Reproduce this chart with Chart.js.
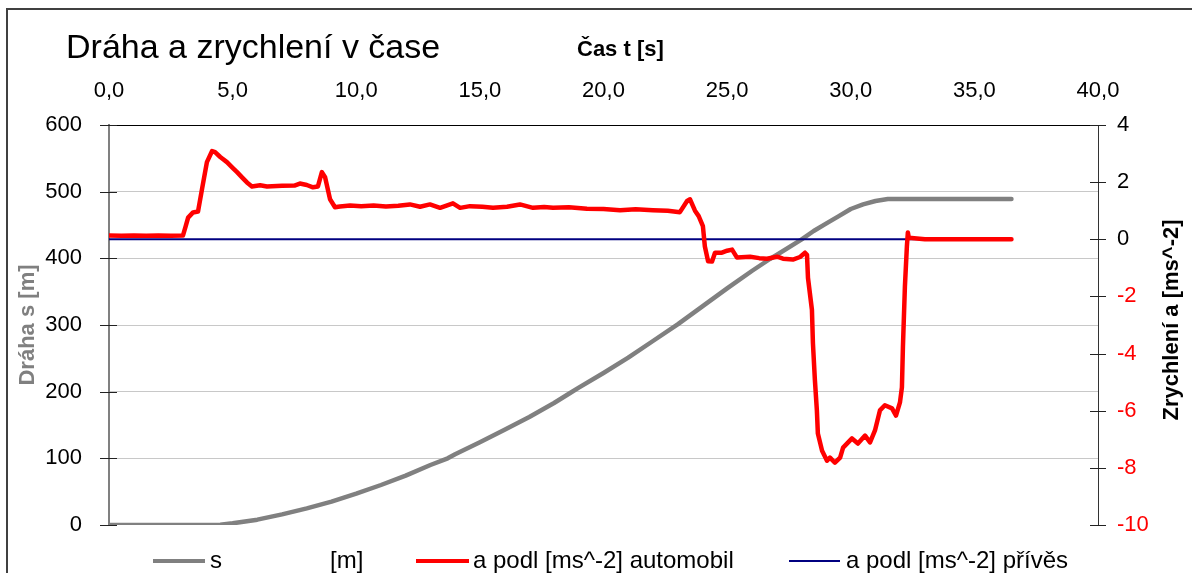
<!DOCTYPE html>
<html>
<head>
<meta charset="utf-8">
<script src="https://cdn.jsdelivr.net/npm/chart.js@4.4.1/dist/chart.umd.min.js"></script>
<style>
  html, body { margin: 0; padding: 0; background: #ffffff; }
  #wrap { width: 1192px; height: 573px; position: relative; overflow: hidden; }
  canvas { display: block; }
</style>
</head>
<body>
<div id="wrap"><canvas id="c" width="1192" height="573"></canvas></div>
<script>
// Time axis ticks [s]
const timeTicks = [0, 5, 10, 15, 20, 25, 30, 35, 40];

// Distance s [m] over time
const distTime = [0, 4.0, 4.5, 5.0, 6.0, 7.0, 8.0, 9.0, 10.0, 11.0, 12.0, 13.0, 13.7, 14.0, 15.0, 16.0, 17.0,
  18.0, 18.65, 19.0, 20.0, 21.0, 22.0, 23.0, 24.0, 25.0, 26.0, 26.73, 27.0, 28.0, 28.5, 29.0, 29.5,
  30.0, 30.5, 31.0, 31.5, 32.0, 36.5];
const distValues = [0, 0, 0.5, 2.5, 8, 16, 25, 35, 47, 60, 74, 90, 100, 106, 124, 143, 162,
  183, 198, 206, 228, 251, 276, 301, 328, 355, 381, 399, 405, 428, 441, 452, 463,
  474, 481, 486, 489, 489, 489];

// Longitudinal acceleration of the car [ms^-2]
const carTime = [0, 0.5, 1.0, 1.5, 2.0, 2.5, 2.99, 3.1, 3.2, 3.4, 3.6, 3.76, 3.96, 4.17, 4.29, 4.5, 4.77,
  5.0, 5.18, 5.4, 5.58, 5.78, 6.11, 6.39, 7.0, 7.5, 7.72, 8.0, 8.25, 8.45, 8.61, 8.74, 8.94, 9.14,
  9.34, 9.75, 10.2, 10.7, 11.2, 11.7, 12.17, 12.58, 12.98, 13.39, 13.91, 14.2, 14.6, 15.1, 15.53,
  16.1, 16.62, 17.15, 17.6, 17.96, 18.6, 19.33, 20.0, 20.67, 21.3, 22.0, 22.6, 23.09, 23.38, 23.5,
  23.7, 23.85, 24.02, 24.1, 24.23, 24.39, 24.51, 24.79, 25.0, 25.2, 25.4, 25.93, 26.3, 26.61, 27.02,
  27.26, 27.66, 27.95, 28.15, 28.23, 28.27, 28.43, 28.47, 28.55, 28.63, 28.67, 28.84, 29.04, 29.16,
  29.36, 29.57, 29.69, 30.05, 30.29, 30.58, 30.78, 30.98, 31.18, 31.38, 31.67, 31.83, 31.99, 32.07,
  32.11, 32.19, 32.27, 32.31, 32.35, 33.0, 34.0, 35.0, 36.5];
const carAccel = [0.13, 0.12, 0.13, 0.12, 0.13, 0.12, 0.13, 0.45, 0.76, 0.94, 0.97, 1.75, 2.70, 3.09, 3.05, 2.88, 2.70,
  2.50, 2.35, 2.15, 1.99, 1.85, 1.89, 1.85, 1.87, 1.88, 1.95, 1.90, 1.82, 1.85, 2.35, 2.17, 1.40, 1.12,
  1.15, 1.18, 1.16, 1.18, 1.15, 1.17, 1.22, 1.14, 1.22, 1.10, 1.26, 1.10, 1.16, 1.14, 1.10,
  1.14, 1.22, 1.10, 1.13, 1.10, 1.12, 1.07, 1.06, 1.02, 1.05, 1.02, 1.00, 0.95, 1.34, 1.40,
  1.00, 0.81, 0.46, -0.25, -0.77, -0.78, -0.47, -0.47, -0.40, -0.36, -0.64, -0.61, -0.66, -0.68, -0.61,
  -0.68, -0.71, -0.62, -0.47, -0.54, -1.35, -2.47, -3.63, -4.93, -5.99, -6.80, -7.40, -7.75, -7.64,
  -7.82, -7.64, -7.29, -6.97, -7.15, -6.87, -7.11, -6.69, -5.99, -5.81, -5.92, -6.17, -5.71, -5.18,
  -3.77, -1.66, -0.26, 0.24, 0.05, 0, 0, 0, 0];

// Longitudinal acceleration of the trailer [ms^-2]
const trailerTime = [0, 36.5];
const trailerAccel = [0, 0];

// Legend entries
const legendNames = ['s', '[m]', 'a podl [ms^-2] automobil', 'a podl [ms^-2] přívěs'];

const FONT = "'Liberation Sans', Arial, sans-serif";
const pairs = (xs, ys) => xs.map((x, i) => ({ x: x, y: ys[i] }));

const CHART_LEFT = 109, CHART_RIGHT = 1098, CHART_TOP = 125, CHART_BOTTOM = 525;

const decorations = {
  id: 'decorations',
  afterDraw(chart) {
    const ctx = chart.ctx;
    const yL = chart.scales.y, yR = chart.scales.y1;
    ctx.save();

    // crossing tick marks on both value axes
    ctx.lineWidth = 1;
    ctx.strokeStyle = '#222222';
    yL.ticks.forEach(t => {
      const py = Math.round(yL.getPixelForValue(t.value)) + 0.5;
      ctx.beginPath(); ctx.moveTo(yL.right - 9, py); ctx.lineTo(yL.right + 8, py); ctx.stroke();
    });
    yR.ticks.forEach(t => {
      const py = Math.round(yR.getPixelForValue(t.value)) + 0.5;
      ctx.beginPath(); ctx.moveTo(yR.left - 8, py); ctx.lineTo(yR.left + 8, py); ctx.stroke();
    });

    // outer frame
    ctx.strokeStyle = '#404040';
    ctx.lineWidth = 2;
    ctx.strokeRect(7, 9, 1300, 700);

    // chart title and time axis title
    ctx.fillStyle = '#000000';
    ctx.textBaseline = 'alphabetic';
    ctx.textAlign = 'left';
    ctx.font = '34px ' + FONT;
    ctx.fillText('Dráha a zrychlení v čase', 66, 58);
    ctx.font = 'bold 22px ' + FONT;
    ctx.fillText('Čas t [s]', 577, 56);

    // value axis titles (both read bottom to top)
    ctx.save();
    ctx.translate(28, (CHART_TOP + CHART_BOTTOM) / 2);
    ctx.rotate(-Math.PI / 2);
    ctx.textAlign = 'center'; ctx.textBaseline = 'middle';
    ctx.fillStyle = '#808080';
    ctx.fillText('Dráha s [m]', 0, 0);
    ctx.restore();

    ctx.save();
    ctx.translate(1172, 320);
    ctx.rotate(-Math.PI / 2);
    ctx.textAlign = 'center'; ctx.textBaseline = 'middle';
    ctx.fillStyle = '#000000';
    ctx.fillText('Zrychlení a [ms^-2]', 0, 0);
    ctx.restore();

    // legend
    const ly = 561;
    ctx.font = '24px ' + FONT;
    ctx.textBaseline = 'middle';
    ctx.textAlign = 'left';
    const sw = (x1, x2, color, w) => {
      ctx.strokeStyle = color; ctx.lineWidth = w; ctx.lineCap = 'butt';
      ctx.beginPath(); ctx.moveTo(x1, ly); ctx.lineTo(x2, ly); ctx.stroke();
    };
    sw(153, 205, '#808080', 4);
    ctx.fillStyle = '#000000';
    ctx.fillText(legendNames[0], 210, ly);
    ctx.fillText(legendNames[1], 330, ly);
    sw(416, 469, '#ff0000', 4);
    ctx.fillText(legendNames[2], 473, ly);
    sw(789, 840, '#000080', 2);
    ctx.fillText(legendNames[3], 846, ly);

    ctx.restore();
  }
};

new Chart(document.getElementById('c'), {
  type: 'line',
  data: {
    datasets: [
      {
        label: 's [m]',
        data: pairs(distTime, distValues),
        xAxisID: 'x', yAxisID: 'y',
        borderColor: '#808080', borderWidth: 4.5,
        borderJoinStyle: 'round', borderCapStyle: 'round',
        pointRadius: 0, tension: 0, order: 3
      },
      {
        label: 'a podl [ms^-2] automobil',
        data: pairs(carTime, carAccel),
        xAxisID: 'x', yAxisID: 'y1',
        borderColor: '#ff0000', borderWidth: 4.5,
        borderJoinStyle: 'round', borderCapStyle: 'round',
        pointRadius: 0, tension: 0, order: 1
      },
      {
        label: 'a podl [ms^-2] přívěs',
        data: pairs(trailerTime, trailerAccel),
        xAxisID: 'x', yAxisID: 'y1',
        borderColor: '#000080', borderWidth: 2,
        pointRadius: 0, tension: 0, order: 2
      }
    ]
  },
  options: {
    responsive: false,
    animation: false,
    devicePixelRatio: 1,
    layout: { padding: { left: 0, right: 0, top: 0, bottom: 573 - CHART_BOTTOM } },
    plugins: { legend: { display: false }, title: { display: false }, tooltip: { enabled: false } },
    scales: {
      x: {
        type: 'linear', position: 'top', min: 0, max: 40,
        afterBuildTicks: s => { s.ticks = timeTicks.map(v => ({ value: v })); },
        afterFit: s => { s.height = CHART_TOP; },
        ticks: {
          font: { family: FONT, size: 22 }, color: '#000000', padding: 21, maxRotation: 0,
          callback: v => v.toFixed(1).replace('.', ',')
        },
        grid: { display: false, drawTicks: false },
        border: { display: true, color: '#000000', width: 1 }
      },
      y: {
        type: 'linear', position: 'left', min: 0, max: 600,
        afterFit: s => { s.width = CHART_LEFT; },
        ticks: { stepSize: 100, font: { family: FONT, size: 22 }, color: '#000000', padding: 27 },
        grid: {
          drawTicks: false, lineWidth: 1,
          color: c => (c.tick && (c.tick.value === 0 || c.tick.value === 600)) ? 'rgba(0,0,0,0)' : '#c8c8c8'
        },
        border: { display: true, color: '#808080', width: 2 }
      },
      y1: {
        type: 'linear', position: 'right', min: -10, max: 4,
        afterFit: s => { s.width = 1192 - CHART_RIGHT; },
        ticks: {
          stepSize: 2, font: { family: FONT, size: 22 }, padding: 19,
          color: c => (c.tick && c.tick.value < 0) ? '#ff0000' : '#000000'
        },
        grid: { drawOnChartArea: false, drawTicks: false },
        border: { display: true, color: '#333333', width: 1 }
      }
    }
  },
  plugins: [decorations]
});
</script>
</body>
</html>
